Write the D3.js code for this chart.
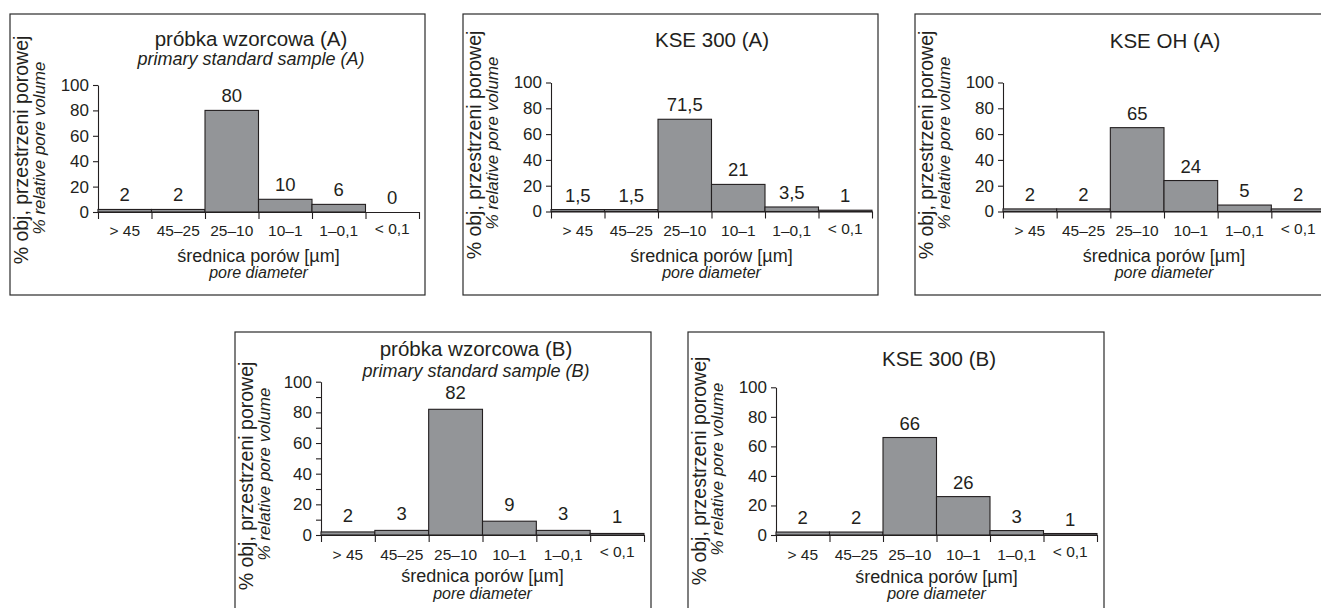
<!DOCTYPE html>
<html>
<head>
<meta charset="utf-8">
<script src="https://cdn.jsdelivr.net/npm/d3@7"></script>
<style>
  body { margin: 0; background: #fff; }
  text { font-family: "Liberation Sans", Arial, Helvetica, sans-serif; fill: #231f20; }
</style>
</head>
<body>
<svg id="chart" width="1321" height="608"></svg>
<script>
// pore size classes [µm]
var categories = ['> 45', '45–25', '25–10', '10–1', '1–0,1', '< 0,1'];
var yTicks = [0, 20, 40, 60, 80, 100];
var yMinorTicks = [0, 10, 20, 30, 40, 50, 60, 70, 80, 90, 100];

// relative pore volume [%]
var standardA = [2, 2, 80, 10, 6, 0];
var kse300A   = [1.5, 1.5, 71.5, 21, 3.5, 1];
var kseOhA    = [2, 2, 65, 24, 5, 2];
var standardB = [2, 3, 82, 9, 3, 1];
var kse300B   = [2, 2, 66, 26, 3, 1];

var yTitle = '% obj, przestrzeni porowej',
    ySubTitle = '% relative pore volume',
    xTitle = 'średnica porów [µm]',
    xSubTitle = 'pore diameter';

// layout of each small chart (frame, plot origin, etc.)
var panels = [
  {title: 'próbka wzorcowa (A)', sub: 'primary standard sample (A)', values: standardA,
   frame: [10, 14, 415, 281], x0: 98, w: 321, y0: 212, y100: 85, titleX: 251, titleY: 46, subY: 65,
   gap: 8, minor: false, labY: 212, xtY: 262, xsY: 277.5, ytY: 150},
  {title: 'KSE 300 (A)', values: kse300A,
   frame: [463, 14, 415, 281], x0: 551, w: 321, y0: 211.5, y100: 82.5, titleX: 712, titleY: 47,
   gap: 8, minor: false, labY: 212, xtY: 262, xsY: 277.5, ytY: 145},
  {title: 'KSE OH (A)', values: kseOhA,
   frame: [915, 14, 415, 281], x0: 1003, w: 322, y0: 211.5, y100: 82.5, titleX: 1165, titleY: 48,
   gap: 8, minor: false, labY: 212, xtY: 262, xsY: 277.5, ytY: 145},
  {title: 'próbka wzorcowa (B)', sub: 'primary standard sample (B)', values: standardB,
   frame: [235, 332, 416, 300], x0: 321, w: 323, y0: 535, y100: 381.7, titleX: 476, titleY: 356, subY: 377,
   gap: 10, minor: true, labY: 535.5, xtY: 582, xsY: 598.5, ytY: 476},
  {title: 'KSE 300 (B)', values: kse300B,
   frame: [688, 332, 416, 300], x0: 776, w: 321, y0: 535, y100: 387.3, titleX: 939, titleY: 366,
   gap: 8, minor: false, labY: 535.5, xtY: 582.5, xsY: 599, ytY: 471}
];

var svg = d3.select('#chart');
var fmt = function(v) { return String(v).replace('.', ','); };

panels.forEach(function(p) {
  var g = svg.append('g');
  var f = p.frame;

  g.append('rect')
    .attr('x', f[0]).attr('y', f[1]).attr('width', f[2]).attr('height', f[3])
    .attr('fill', 'none').attr('stroke', '#2b2b2b').attr('stroke-width', 1.2);

  var x = d3.scaleBand().domain(categories).range([p.x0, p.x0 + p.w]).padding(0);
  var xEdge = d3.scaleLinear().domain([0, categories.length]).range([p.x0, p.x0 + p.w]);
  var y = d3.scaleLinear().domain([0, 100]).range([p.y0, p.y100]);

  // y axis
  var yAxis = d3.axisLeft(y)
    .tickValues(p.minor ? yMinorTicks : yTicks)
    .tickFormat(function(d) { return yTicks.indexOf(d) >= 0 ? d : ''; })
    .tickSize(5).tickSizeOuter(0).tickPadding(4);
  var ya = g.append('g').attr('transform', 'translate(' + p.x0 + ',0)').call(yAxis);
  ya.attr('font-family', null).attr('font-size', 17).style('color', '#231f20');
  ya.selectAll('line, path').attr('stroke-width', 1.1);

  // x axis: ticks on class boundaries
  var xAxis = d3.axisBottom(xEdge).tickValues(d3.range(categories.length + 1))
    .tickFormat('').tickSize(7).tickSizeOuter(0);
  var xa = g.append('g').attr('transform', 'translate(0,' + p.y0 + ')').call(xAxis);
  xa.style('color', '#231f20');
  xa.selectAll('line, path').attr('stroke-width', 1.1);

  // class labels centred in each bin
  var labAxis = d3.axisBottom(x).tickSize(0).tickPadding(13);
  var la = g.append('g').attr('transform', 'translate(0,' + p.labY + ')').call(labAxis);
  la.attr('font-family', null).attr('font-size', 15.5).style('color', '#231f20');
  la.select('.domain').remove();
  la.selectAll('.tick:last-of-type text').attr('dy', '0.58em');

  // bars
  g.selectAll('rect.bar').data(p.values).join('rect')
    .attr('class', 'bar')
    .attr('x', function(d, i) { return x(categories[i]); })
    .attr('y', function(d) { return y(d); })
    .attr('width', x.bandwidth())
    .attr('height', function(d) { return y(0) - y(d); })
    .attr('fill', '#939598')
    .attr('stroke', '#231f20')
    .attr('stroke-width', 1.1);

  // values over bars
  g.selectAll('text.val').data(p.values).join('text')
    .attr('class', 'val')
    .attr('x', function(d, i) { return x(categories[i]) + x.bandwidth() / 2; })
    .attr('y', function(d) { return y(d) - p.gap; })
    .attr('text-anchor', 'middle')
    .attr('font-size', 18.5)
    .text(function(d) { return fmt(d); });

  // titles
  g.append('text').attr('x', p.titleX).attr('y', p.titleY)
    .attr('text-anchor', 'middle').attr('font-size', 20.5).text(p.title);
  if (p.sub) {
    g.append('text').attr('x', p.titleX).attr('y', p.subY)
      .attr('text-anchor', 'middle').attr('font-size', 18).attr('font-style', 'italic').text(p.sub);
  }

  var cx = p.x0 + p.w / 2;
  g.append('text').attr('x', cx).attr('y', p.xtY)
    .attr('text-anchor', 'middle').attr('font-size', 18).text(xTitle);
  g.append('text').attr('x', cx).attr('y', p.xsY)
    .attr('text-anchor', 'middle').attr('font-size', 16).attr('font-style', 'italic').text(xSubTitle);

  g.append('text')
    .attr('transform', 'translate(' + (f[0] + 18) + ',' + p.ytY + ') rotate(-90)')
    .attr('text-anchor', 'middle').attr('font-size', 19.5).text(yTitle);
  g.append('text')
    .attr('transform', 'translate(' + (f[0] + 35) + ',' + (p.ytY - 2) + ') rotate(-90)')
    .attr('text-anchor', 'middle').attr('font-size', 17).attr('font-style', 'italic').text(ySubTitle);
});
</script>
</body>
</html>
